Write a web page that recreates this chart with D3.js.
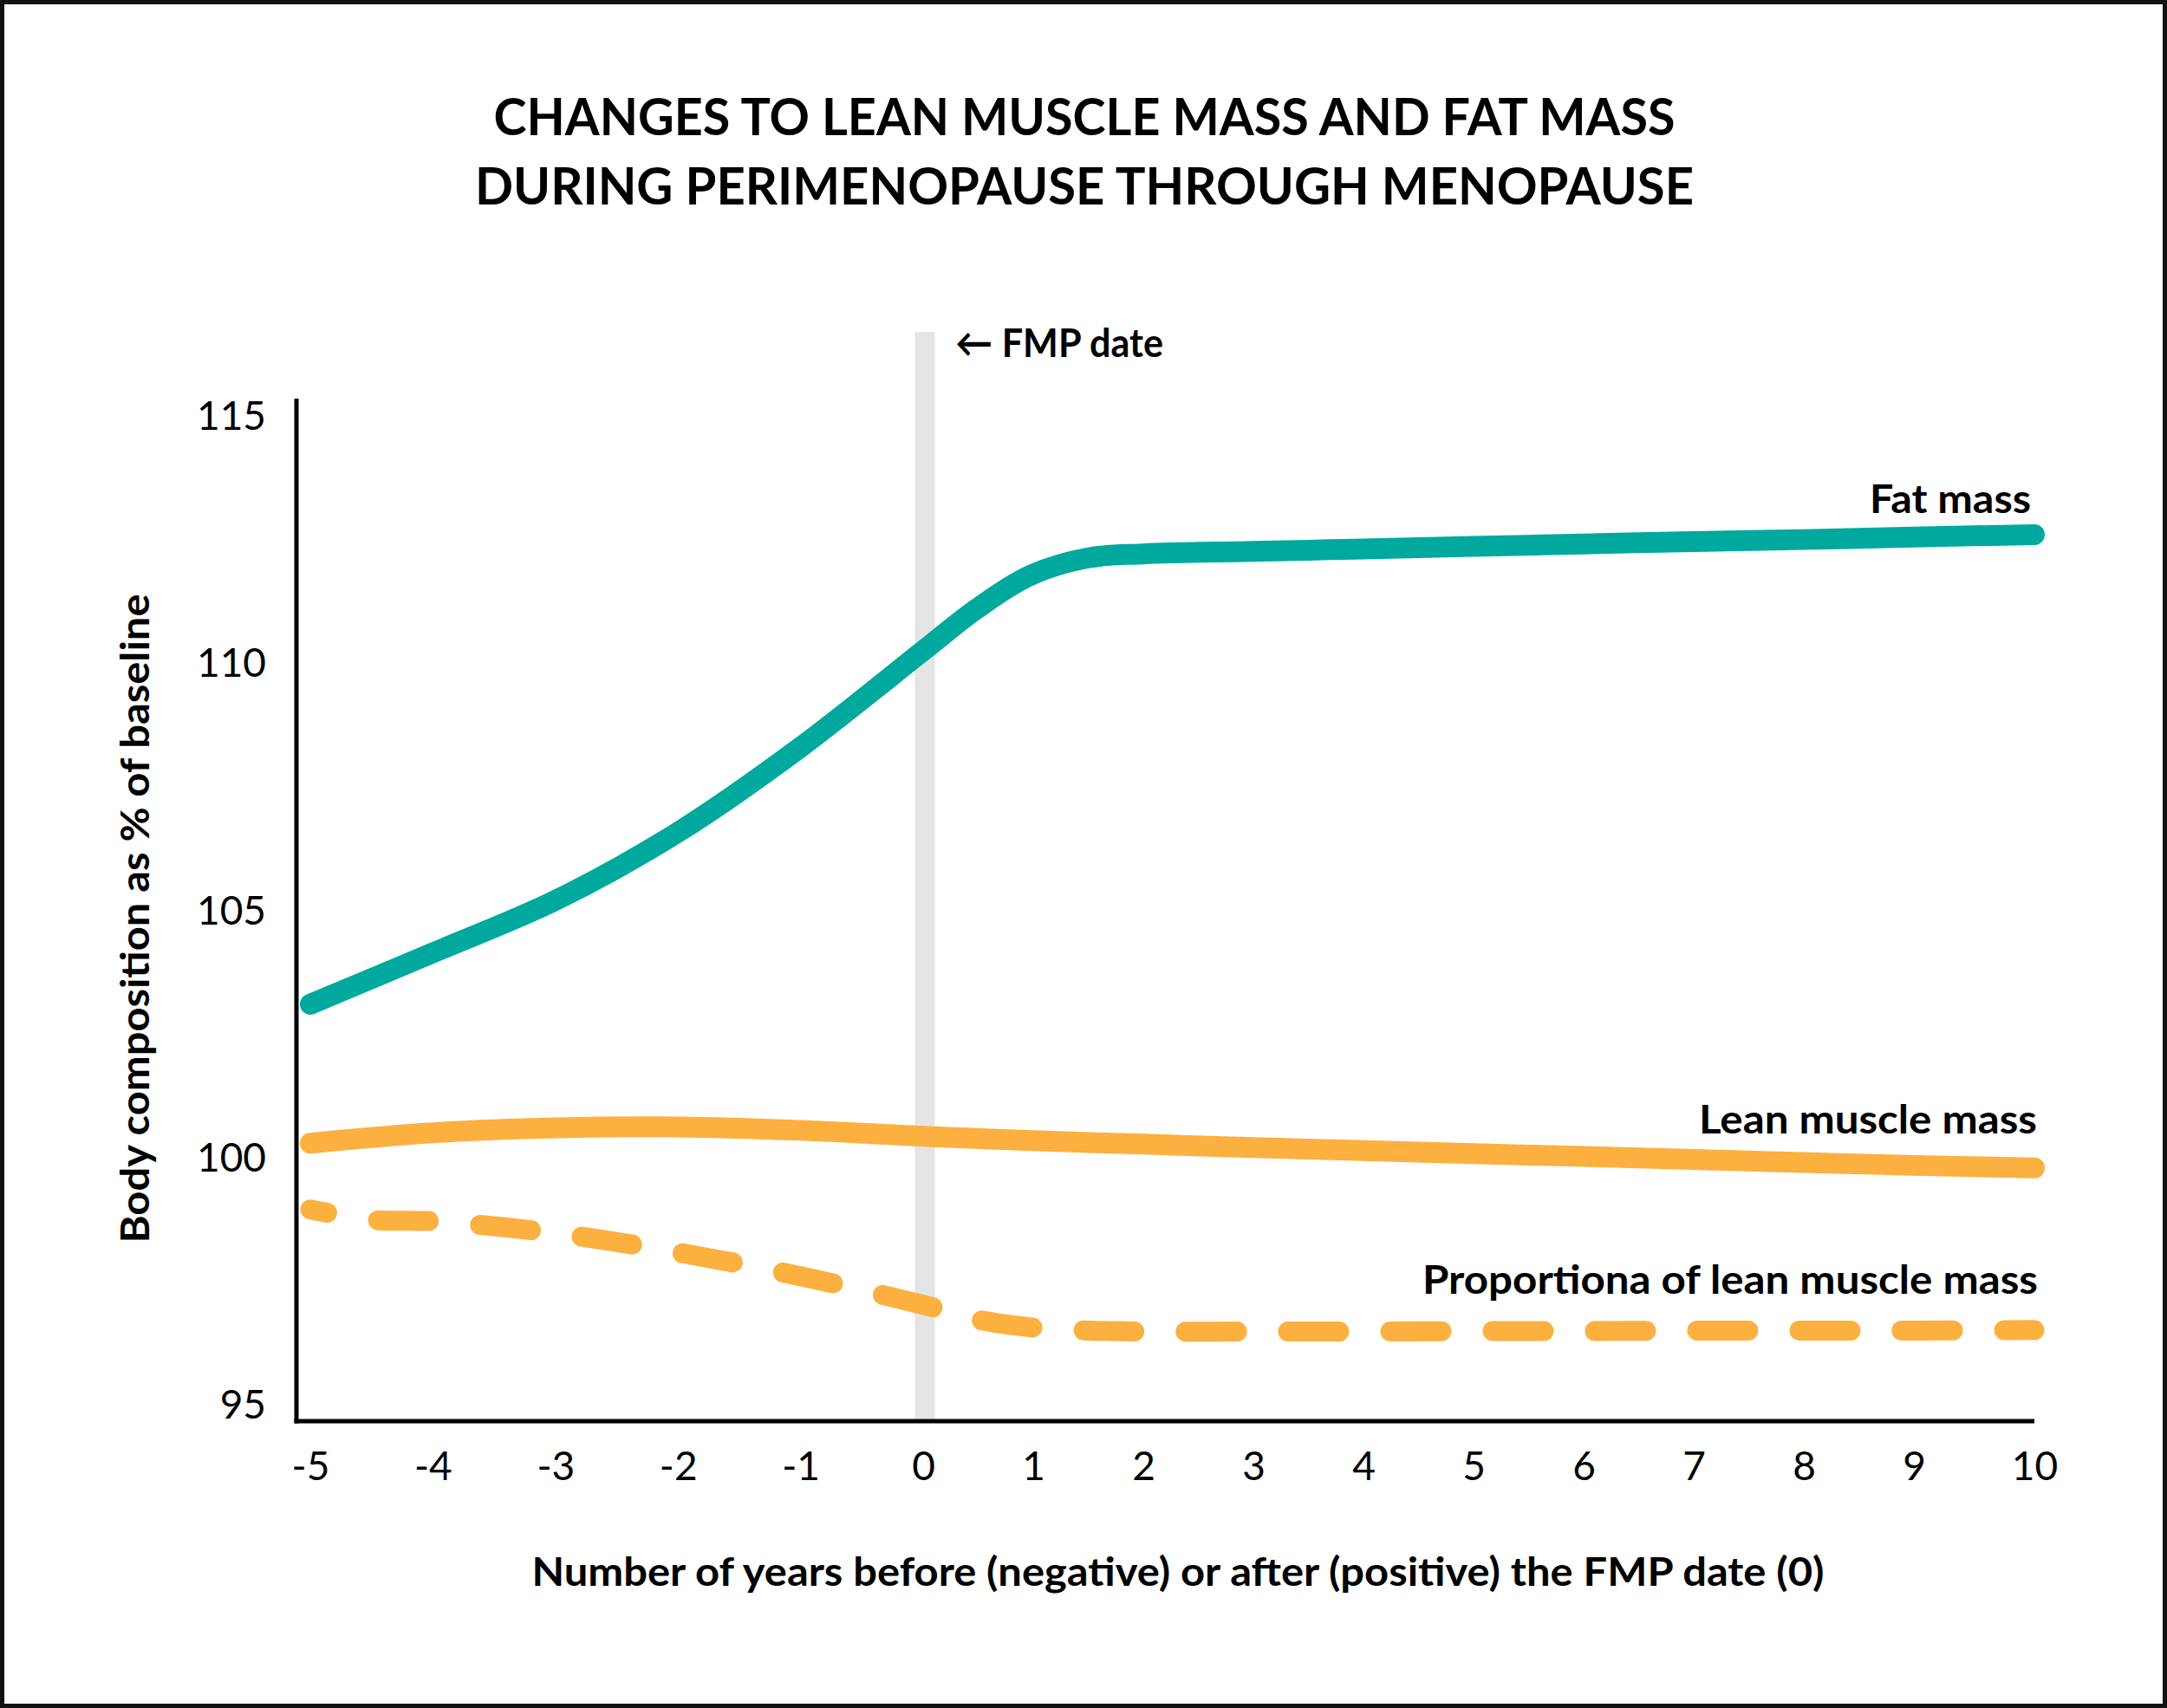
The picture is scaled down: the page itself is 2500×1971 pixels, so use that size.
<!DOCTYPE html>
<html>
<head>
<meta charset="utf-8">
<script src="https://cdn.jsdelivr.net/npm/d3@7.9.0/dist/d3.min.js"></script>
<style>
  html, body { margin: 0; padding: 0; background: #fff; }
  svg { display: block; }
  text { font-family: Lato, "Noto Sans", sans-serif; fill: #000; }
</style>
</head>
<body>
<svg id="chart" width="2500" height="1971"></svg>
<script>
// tick labels
const xTicks = [-5, -4, -3, -2, -1, 0, 1, 2, 3, 4, 5, 6, 7, 8, 9, 10];
const yTicks = [95, 100, 105, 110, 115];

// fat mass (% of baseline)
const fatYears = [-5, -4, -3, -2, -1, 0, 0.5, 1, 1.5, 2, 3, 4, 5, 6, 7, 8, 9, 10];
const fatMass = [103.1, 104.14, 105.2, 106.58, 108.3, 110.25, 111.12, 111.8, 112.13, 112.21,
  112.26, 112.31, 112.36, 112.41, 112.46, 112.5, 112.55, 112.6];

// lean muscle mass
const leanYears = [-5, -4, -3, -2, -1, 0, 1, 2, 3, 4, 5, 6, 7, 8, 9, 10];
const leanMass = [100.29, 100.5, 100.6, 100.62, 100.55, 100.43, 100.34, 100.27,
  100.2, 100.14, 100.08, 100.02, 99.96, 99.9, 99.84, 99.79];

// proportion of lean muscle mass (dashed)
const propYears = [-5, -4.5, -4, -3, -2, -1, 0, 0.5, 1, 1.5, 2, 3, 4, 5, 6, 7, 8, 9, 10];
const propLean = [98.95, 98.74, 98.71, 98.47, 98.08, 97.6, 97.02, 96.72, 96.56, 96.5, 96.48,
  96.48, 96.48, 96.49, 96.49, 96.5, 96.5, 96.5, 96.51];

const titleLines = ['CHANGES TO LEAN MUSCLE MASS AND FAT MASS', 'DURING PERIMENOPAUSE THROUGH MENOPAUSE'];

const teal = '#00a99d';
const orange = '#fbb040';

const svg = d3.select('#chart');

// frame
svg.append('rect')
  .attr('x', 2.5).attr('y', 2.5)
  .attr('width', 2495).attr('height', 1966)
  .attr('fill', 'none').attr('stroke', '#111').attr('stroke-width', 5);

// title
svg.selectAll('.title')
  .data(titleLines)
  .join('text')
  .attr('class', 'title')
  .attr('x', 1251)
  .attr('y', (d, i) => 156 + i * 80)
  .attr('text-anchor', 'middle')
  .attr('font-size', 60)
  .attr('font-weight', 700)
  .attr('textLength', (d, i) => i === 0 ? 1363 : 1406)
  .attr('lengthAdjust', 'spacingAndGlyphs')
  .text(d => d);

// piecewise x: years before the FMP are drawn wider, and the last year is stretched
const x = d3.scaleLinear().domain([-5, 0, 9, 10]).range([358, 1065, 2208, 2347]);
const y = d3.scaleLinear().domain([95, 115]).range([1621, 480]);

const axisY = 1640;
const axisX = 342;

// FMP band
svg.append('rect')
  .attr('x', x(0) - 9.5).attr('y', 383)
  .attr('width', 23).attr('height', axisY - 383)
  .attr('fill', '#e5e5e5');

svg.append('text')
  .attr('x', 1102).attr('y', 412)
  .attr('font-size', 46).attr('font-weight', 700)
  .attr('textLength', 240).attr('lengthAdjust', 'spacingAndGlyphs')
  .text('\u2190 FMP date');

// axes
svg.append('g')
  .attr('transform', `translate(${axisX},0)`)
  .call(d3.axisLeft(y).tickValues(yTicks).tickSize(0).tickPadding(35))
  .call(g => g.select('.domain').remove())
  .call(g => g.selectAll('text')
    .attr('font-size', 46).attr('font-family', 'Lato, sans-serif').attr('dy', '0.34em'));

svg.append('g')
  .attr('transform', `translate(0,${axisY})`)
  .call(d3.axisBottom(x).tickValues(xTicks).tickSize(0).tickPadding(0).tickFormat(d => String(d)))
  .call(g => g.select('.domain').remove())
  .call(g => g.selectAll('text')
    .attr('font-size', 46).attr('font-family', 'Lato, sans-serif').attr('dy', null).attr('y', 68));

svg.append('line')
  .attr('x1', axisX).attr('x2', axisX)
  .attr('y1', 460).attr('y2', axisY + 2.5)
  .attr('stroke', '#000').attr('stroke-width', 5);

svg.append('line')
  .attr('x1', axisX - 2.5).attr('x2', x(10))
  .attr('y1', axisY).attr('y2', axisY)
  .attr('stroke', '#000').attr('stroke-width', 5);

// axis titles
svg.append('text')
  .attr('transform', 'translate(172,1060) rotate(-90)')
  .attr('text-anchor', 'middle')
  .attr('font-size', 46).attr('font-weight', 700)
  .attr('textLength', 749).attr('lengthAdjust', 'spacingAndGlyphs')
  .text('Body composition as % of baseline');

svg.append('text')
  .attr('x', 1359).attr('y', 1830)
  .attr('text-anchor', 'middle')
  .attr('font-size', 46).attr('font-weight', 700)
  .attr('textLength', 1491).attr('lengthAdjust', 'spacingAndGlyphs')
  .text('Number of years before (negative) or after (positive) the FMP date (0)');

// series
const line = d3.line()
  .x(d => x(d[0]))
  .y(d => y(d[1]))
  .curve(d3.curveCatmullRom.alpha(0.5));

svg.append('path')
  .attr('d', line(d3.zip(propYears, propLean)))
  .attr('fill', 'none').attr('stroke', orange)
  .attr('stroke-width', 23).attr('stroke-linecap', 'round')
  .attr('stroke-dasharray', '59 59').attr('stroke-dashoffset', 39);

svg.append('path')
  .attr('d', line(d3.zip(leanYears, leanMass)))
  .attr('fill', 'none').attr('stroke', orange)
  .attr('stroke-width', 24).attr('stroke-linecap', 'round');

svg.append('path')
  .attr('d', line(d3.zip(fatYears, fatMass)))
  .attr('fill', 'none').attr('stroke', teal)
  .attr('stroke-width', 24).attr('stroke-linecap', 'round');

// series labels
const labels = [
  { text: 'Fat mass', y: 592, w: 186, right: 2343 },
  { text: 'Lean muscle mass', y: 1308, w: 390, right: 2350 },
  { text: 'Proportiona of lean muscle mass', y: 1493, w: 710, right: 2351 }
];

svg.selectAll('.series-label')
  .data(labels)
  .join('text')
  .attr('class', 'series-label')
  .attr('x', d => d.right)
  .attr('y', d => d.y)
  .attr('text-anchor', 'end')
  .attr('font-size', 46).attr('font-weight', 700)
  .attr('textLength', d => d.w).attr('lengthAdjust', 'spacingAndGlyphs')
  .text(d => d.text);
</script>
</body>
</html>
